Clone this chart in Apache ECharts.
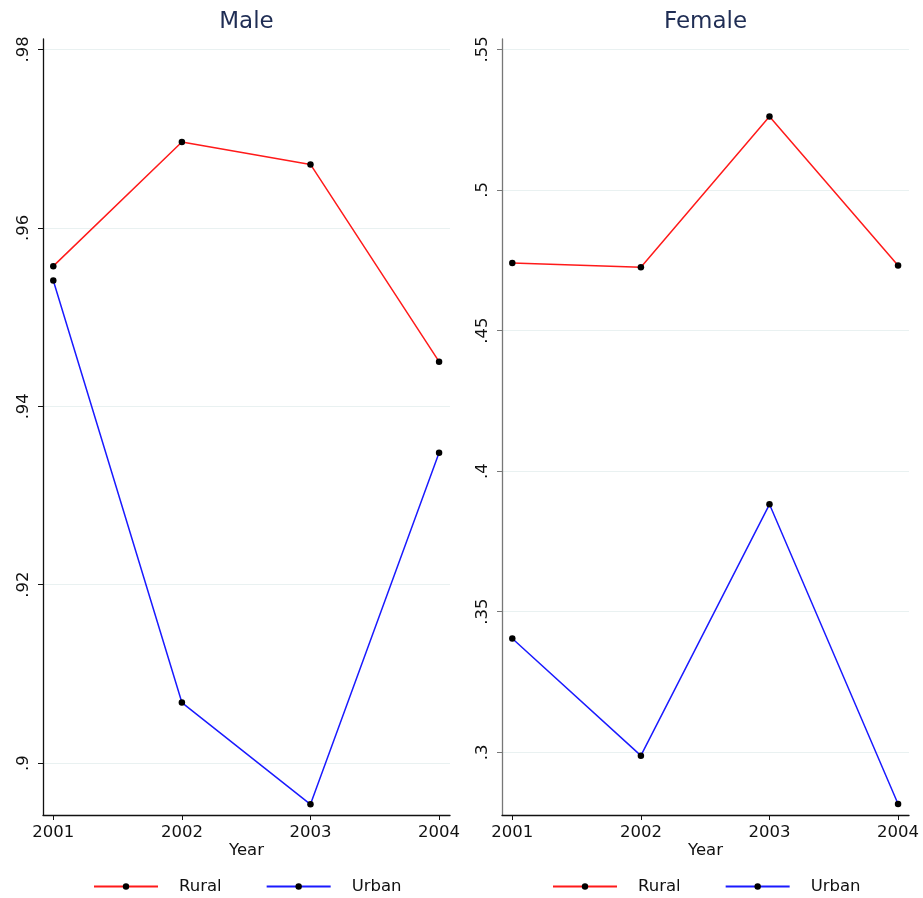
<!DOCTYPE html>
<html>
<head>
<meta charset="utf-8">
<title>Rural and Urban by Year</title>
<script src="https://cdn.jsdelivr.net/npm/echarts@6/dist/echarts.min.js"></script>
<style>
  html, body { margin: 0; padding: 0; background: #fff; }
  #chart { width: 923px; height: 898px; }
</style>
</head>
<body>
<div id="chart"></div>
<script>
// Survey years on the horizontal axis
const years = [2001, 2002, 2003, 2004];

// Male panel
const maleRural = [0.9557, 0.9696, 0.9671, 0.9450];
const maleUrban = [0.9541, 0.9068, 0.8954, 0.9348];
const maleTicks = [0.90, 0.92, 0.94, 0.96, 0.98];

// Female panel
const femaleRural = [0.4740, 0.4725, 0.5261, 0.4731];
const femaleUrban = [0.3405, 0.2988, 0.3882, 0.2816];
const femaleTicks = [0.30, 0.35, 0.40, 0.45, 0.50, 0.55];

const FONT = 'DejaVu Sans';
const pairs = vals => years.map((y, i) => [y, vals[i]]);
const dropZero = v => String(+v.toFixed(4)).replace(/^0(?=\.)/, '');

function xAxisFor(gridIndex) {
  return {
    type: 'value', gridIndex, min: 2000.92, max: 2004.085,
    name: 'Year', nameLocation: 'middle', nameGap: 27, nameMoveOverlap: false,
    nameTextStyle: { fontFamily: FONT, fontSize: 16.5, color: '#111' },
    axisLine: { lineStyle: { color: '#111', width: 1.3 } },
    axisTick: { show: true, length: 5, customValues: years, lineStyle: { color: '#111' } },
    axisLabel: { customValues: years, margin: 9, fontFamily: FONT, fontSize: 16.5, color: '#111',
                 formatter: v => String(v) },
    splitLine: { show: false }
  };
}

function yAxisFor(gridIndex, min, max, ticks, lineColor) {
  return {
    type: 'value', gridIndex, min, max,
    axisLine: { show: true, lineStyle: { color: lineColor, width: 1.3 } },
    axisTick: { show: true, length: 5, customValues: ticks, lineStyle: { color: lineColor } },
    axisLabel: { customValues: ticks, rotate: 90, margin: 11, fontFamily: FONT, fontSize: 16.5,
                 color: '#111', formatter: dropZero },
    splitLine: { show: true, lineStyle: { color: '#e9f1f1', width: 1 } }
  };
}

function lineSeries(name, color, xi, data) {
  return {
    name, type: 'line', xAxisIndex: xi, yAxisIndex: xi, data: pairs(data),
    symbol: 'circle', symbolSize: 6.5, showSymbol: true,
    itemStyle: { color: '#000' },
    lineStyle: { color, width: 1.5 },
    emphasis: { disabled: true },
    animation: false
  };
}

const legendBase = {
  bottom: -2, itemWidth: 64, itemHeight: 8, itemGap: 44,
  textStyle: { fontFamily: FONT, fontSize: 16.5, color: '#111', padding: [0, 0, 0, 16] },
  data: ['Rural', 'Urban'],
  selectedMode: false
};

const chart = echarts.init(document.getElementById('chart'), null, { renderer: 'canvas' });
chart.setOption({
  backgroundColor: '#fff',
  animation: false,
  title: [
    { text: 'Male', left: 241.5, top: 6, textAlign: 'center',
      textStyle: { fontFamily: FONT, fontSize: 23, fontWeight: 'normal', color: '#1f2d54' } },
    { text: 'Female', left: 700.5, top: 6, textAlign: 'center',
      textStyle: { fontFamily: FONT, fontSize: 23, fontWeight: 'normal', color: '#1f2d54' } }
  ],
  legend: [
    Object.assign({}, legendBase, { left: 88 }),
    Object.assign({}, legendBase, { left: 547 })
  ],
  grid: [
    { left: 43, right: 473, top: 39, bottom: 83 },
    { left: 502, right: 14, top: 39, bottom: 83 }
  ],
  xAxis: [xAxisFor(0), xAxisFor(1)],
  yAxis: [
    yAxisFor(0, 0.8942, 0.98115, maleTicks, '#111'),
    yAxisFor(1, 0.2777, 0.5537, femaleTicks, '#777')
  ],
  series: [
    lineSeries('Rural', '#ff1a1a', 0, maleRural),
    lineSeries('Urban', '#1a1aff', 0, maleUrban),
    lineSeries('Rural', '#ff1a1a', 1, femaleRural),
    lineSeries('Urban', '#1a1aff', 1, femaleUrban)
  ]
});
</script>
</body>
</html>
